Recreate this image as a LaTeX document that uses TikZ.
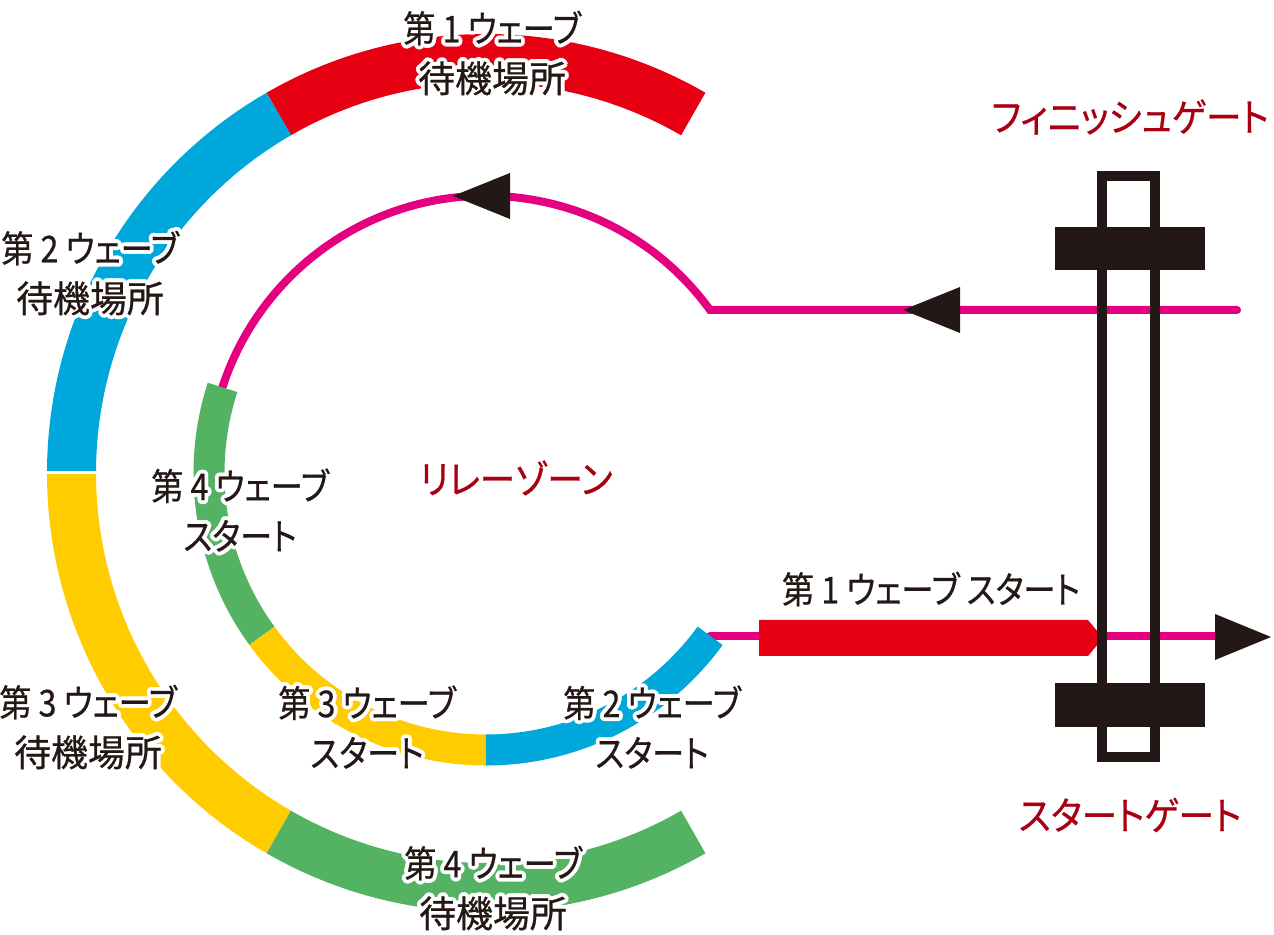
\documentclass[tikz,border=0pt]{standalone}
\usepackage{graphicx}
\usepackage{fontspec}
\setmainfont{Noto Sans CJK JP}[RawFeature=+palt, FakeBold=0.6]
\usepackage{contour}
\contourlength{1.1pt}
\definecolor{inkblack}{RGB}{35,24,21}
\definecolor{wavered}{RGB}{230,0,18}
\definecolor{waveblue}{RGB}{0,167,219}
\definecolor{waveyellow}{RGB}{255,204,0}
\definecolor{wavegreen}{RGB}{84,179,99}
\definecolor{trackpink}{RGB}{228,0,127}
\definecolor{gatered}{RGB}{168,0,18}
\newcommand{\narrow}[1]{\scalebox{0.87}[1]{#1}}
\newcommand{\halo}[1]{\contour{white}{#1}}

\begin{document}
\begin{tikzpicture}[x=0.01cm, y=0.01cm,
    lbl/.style={text=inkblack, align=center, inner sep=0pt, font=\fontsize{10.5pt}{14.2pt}\selectfont},
    gatelbl/.style={text=gatered, inner sep=0pt, font=\fontsize{11pt}{14pt}\selectfont},
    band/.style={line width=0.49cm},
    lane/.style={line width=0.31cm},
    track/.style={draw=trackpink, line width=0.08cm, line cap=round},
    tipfill/.style={fill=inkblack}]
    \useasboundingbox (0,0) rectangle (1274,934);
    \coordinate (c) at (486,461);
    \coordinate (relayin) at (710,624);
    \coordinate (finend) at (1237,624);
    \coordinate (relayout) at (710,298);
    \coordinate (startend) at (1225,298);

    % Waiting areas
    \draw[band, wavered] (c) ++(60:414.5) arc[start angle=60, end angle=120, radius=414.5];
    \draw[band, waveblue] (c) ++(120:414.5) arc[start angle=120, end angle=180, radius=414.5];
    \draw[band, waveyellow] (c) ++(180:414.5) arc[start angle=180, end angle=240, radius=414.5];
    \draw[band, wavegreen] (c) ++(240:414.5) arc[start angle=240, end angle=300, radius=414.5];
    \draw[white, line width=0.03cm] (c) ++(180:388) -- ++(180:53);

    % Track
    \draw[track] (finend) -- (relayin) arc[start angle=36, end angle=162, radius=277];
    \draw[track] (relayout) -- (startend);

    % Relay zone
    \draw[lane, wavegreen] (c) ++(162:277) arc[start angle=162, end angle=216, radius=277];
    \draw[lane, waveyellow] (c) ++(216:277) arc[start angle=216, end angle=270, radius=277];
    \draw[lane, waveblue] (c) ++(270:277) arc[start angle=270, end angle=324, radius=277];

    % Arrowheads
    \fill[tipfill] (453,738) -- (510,761) -- (510,715) -- cycle;
    \fill[tipfill] (903,624) -- (960,647) -- (960,601) -- cycle;
    \fill[tipfill] (1271,297) -- (1215,320) -- (1215,274) -- cycle;
    \fill[wavered] (759,278) -- (1088,278) -- (1103,296) -- (1088,314) -- (759,314) -- cycle;

    % Gates
    \draw[inkblack, line width=0.1cm] (1102,177) rectangle (1155,758);
    \fill[inkblack] (1055,664) rectangle (1205,707);
    \fill[inkblack] (1055,207) rectangle (1205,251);

    % Labels
    \node[lbl] (w1wait) at (492,879) {\halo{\narrow{第 1 ウェーブ}}\\\halo{待機場所}};
    \node[lbl] (w2wait) at (90,659) {\halo{\narrow{第 2 ウェーブ}}\\\halo{待機場所}};
    \node[lbl] (w3wait) at (88,205) {\halo{\narrow{第 3 ウェーブ}}\\\halo{待機場所}};
    \node[lbl] (w4wait) at (493,44) {\halo{\narrow{第 4 ウェーブ}}\\\halo{待機場所}};
    \node[lbl] (w4start) at (240,422) {\halo{\narrow{第 4 ウェーブ}}\\\halo{\narrow{スタート}}};
    \node[lbl] (w3start) at (367,205) {\halo{\narrow{第 3 ウェーブ}}\\\halo{\narrow{スタート}}};
    \node[lbl] (w2start) at (652,205) {\halo{\narrow{第 2 ウェーブ}}\\\halo{\narrow{スタート}}};
    \node[lbl] (w1start) at (931,345) {\narrow{第 1 ウェーブ スタート}};
    \node[gatelbl] (relay) at (516,456) {\scalebox{0.92}[1]{リレーゾーン}};
    \node[gatelbl] (finish) at (1130,817) {\scalebox{0.92}[1]{フィニッシュゲート}};
    \node[gatelbl] (startgate) at (1130,119) {\scalebox{0.92}[1]{スタートゲート}};
\end{tikzpicture}
\end{document}
